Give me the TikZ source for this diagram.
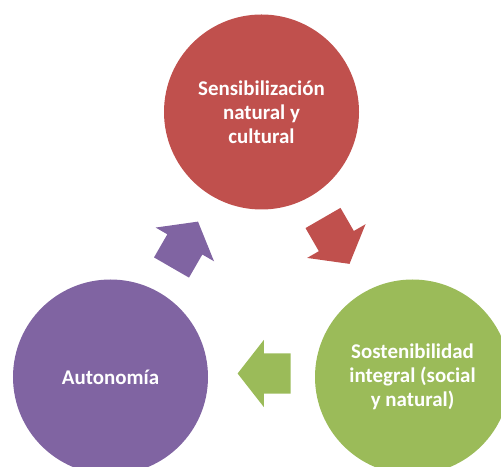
\documentclass[tikz,border=0pt]{standalone}
\usepackage{fontspec}
\setmainfont{Carlito}
\usetikzlibrary{shapes.arrows}
\definecolor{cycred}{HTML}{C0504D}
\definecolor{cycpurple}{HTML}{8064A2}
\definecolor{cycgreen}{HTML}{9BBB59}
\begin{document}
\begin{tikzpicture}[x=1bp, y=1bp,
    stage/.style={circle, minimum size=195bp, inner sep=0pt, text=white,
      font=\fontsize{21}{24}\selectfont\bfseries, align=center},
    turn/.style={single arrow, minimum height=53bp, inner xsep=0pt, inner ysep=20bp,
      single arrow head extend=13.5bp, single arrow head indent=0pt,
      single arrow tip angle=104}]
    \useasboundingbox (0,0) rectangle (501,467);
    \node[stage, fill=cycred] (sens) at (261.5,355) {Sensibilización\\natural y\\cultural};
    \node[stage, fill=cycgreen] (sost) at (412.5,90) {Sostenibilidad\\integral (social\\y natural)};
    \node[stage, fill=cycpurple] (auto) at (110.5,90) {Autonomía};
    \node[turn, fill=cycred, rotate=-60] (a1) at (332.3,232.9) {};
    \node[turn, fill=cycgreen, rotate=180] (a2) at (272,93.5) {};
    \node[turn, fill=cycpurple, rotate=60] (a3) at (180.8,215.6) {};
\end{tikzpicture}
\end{document}
